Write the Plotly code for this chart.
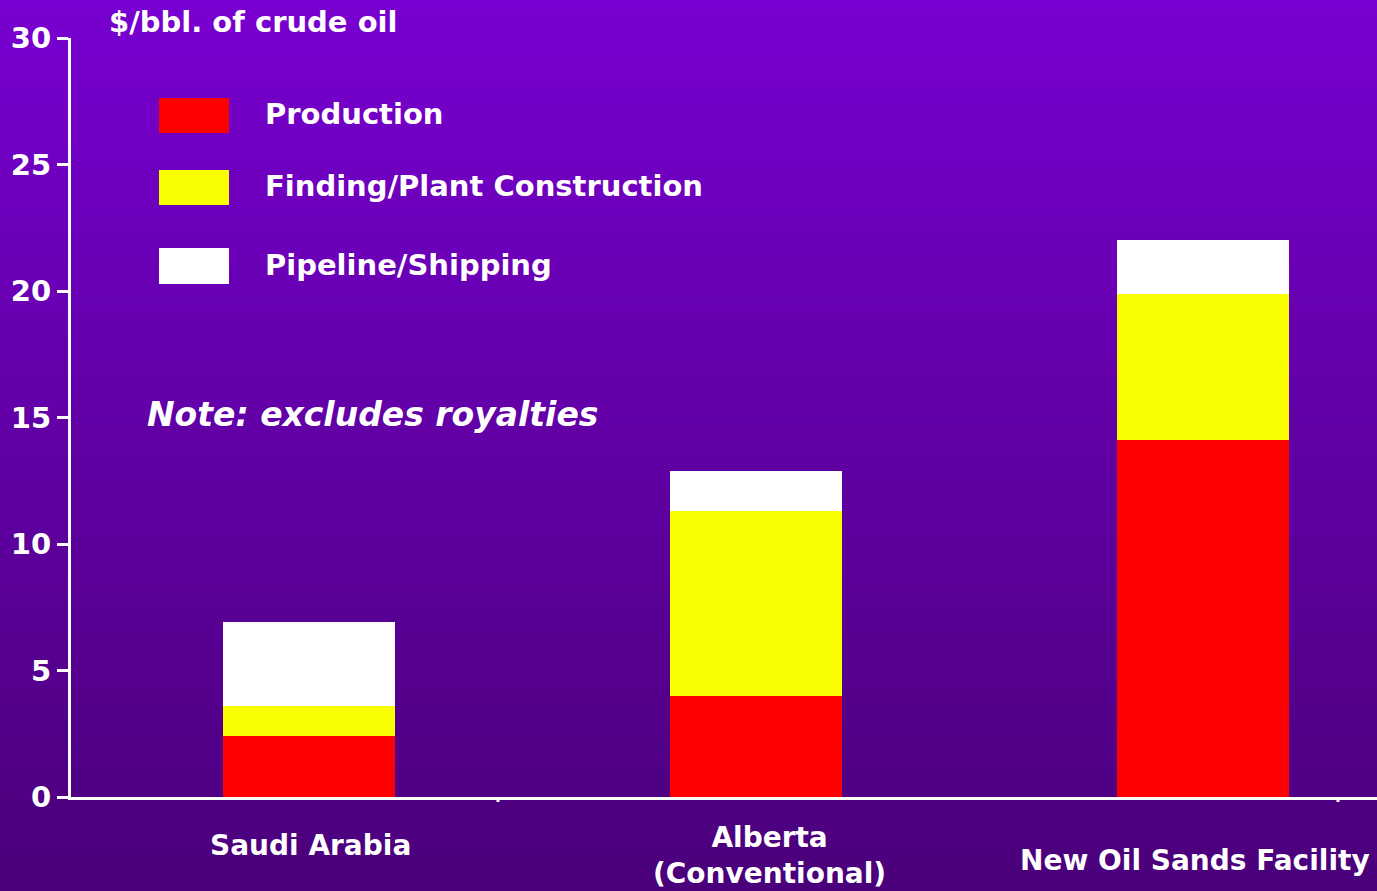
import plotly.graph_objects as go

# Cost components per barrel of crude oil ($/bbl)
categories = ["Saudi Arabia", "Alberta (Conventional)", "New Oil Sands Facility"]
category_labels = ["Saudi Arabia", "Alberta<br>(Conventional)", "New Oil Sands Facility"]
production = [2.4, 4.0, 14.1]
finding_construction = [1.2, 7.3, 5.8]
pipeline_shipping = [3.3, 1.6, 2.1]

series_names = ["Production", "Finding/Plant Construction", "Pipeline/Shipping"]
series_colors = ["#ff0000", "#f9ff00", "#ffffff"]
y_ticks = [0, 5, 10, 15, 20, 25, 30]

W, H = 1377, 891
M_L, M_R, M_T, M_B = 71, 0, 38, 94
PW, PH = W - M_L - M_R, H - M_T - M_B
FONT = "DejaVu Sans"


def px_x(p):
    """Pixel column -> paper x."""
    return (p - M_L) / PW


def px_y(p):
    """Pixel row -> paper y."""
    return (H - M_B - p) / PH


fig = go.Figure()
for name, vals, col in zip(series_names,
                           [production, finding_construction, pipeline_shipping],
                           series_colors):
    fig.add_trace(go.Bar(
        x=categories, y=vals, name=name,
        marker=dict(color=col, line=dict(width=0)),
        width=0.385, showlegend=False,
    ))

shapes = []
# vertical purple gradient background
top_rgb = (120, 0, 208)
bot_rgb = (74, 0, 122)
n_strips = 90
for i in range(n_strips):
    t = i / (n_strips - 1)
    c = tuple(round(a + (b - a) * t) for a, b in zip(top_rgb, bot_rgb))
    y0 = i * H / n_strips
    y1 = (i + 1) * H / n_strips + 1
    shapes.append(dict(
        type="rect", xref="paper", yref="paper", layer="below",
        x0=px_x(0), x1=px_x(W), y0=px_y(y1), y1=px_y(y0),
        fillcolor="rgb(%d,%d,%d)" % c, line=dict(width=0),
    ))

# legend swatches
legend_rows = [(98, 133), (170, 205), (248, 284)]
for (r0, r1), col in zip(legend_rows, series_colors):
    shapes.append(dict(
        type="rect", xref="paper", yref="paper",
        x0=px_x(159), x1=px_x(229), y0=px_y(r1), y1=px_y(r0),
        fillcolor=col, line=dict(width=0),
    ))

# small tick marks below the baseline
for tx in (498, 1338):
    shapes.append(dict(
        type="line", xref="paper", yref="paper",
        x0=px_x(tx), x1=px_x(tx), y0=px_y(797), y1=px_y(802),
        line=dict(color="white", width=3),
    ))

annotations = []
for name, (r0, r1) in zip(series_names, legend_rows):
    annotations.append(dict(
        text=name, xref="paper", yref="paper",
        x=px_x(263), y=px_y((r0 + r1) / 2 - 1),
        xanchor="left", yanchor="middle", showarrow=False,
        font=dict(family=FONT, size=29, color="white", weight="bold"),
    ))

annotations.append(dict(
    text="$/bbl. of crude oil", xref="paper", yref="paper",
    x=px_x(107), y=px_y(22), xanchor="left", yanchor="middle", showarrow=False,
    font=dict(family=FONT, size=29, color="white", weight="bold"),
))
annotations.append(dict(
    text="<i>Note: excludes royalties</i>", xref="paper", yref="paper",
    x=px_x(145), y=px_y(414), xanchor="left", yanchor="middle", showarrow=False,
    font=dict(family=FONT, size=33, color="white", weight="bold"),
))

# category labels under the bars
label_rows = [846, 855, 860]
label_centers = [310, 770, 1195]
for lab, row, cx in zip(category_labels, label_rows, label_centers):
    annotations.append(dict(
        text=lab, xref="paper", yref="paper",
        x=px_x(cx), y=px_y(row), xanchor="center", yanchor="middle",
        showarrow=False, align="center",
        font=dict(family=FONT, size=28, color="white", weight="bold"),
    ))

fig.update_layout(
    width=W, height=H,
    margin=dict(l=M_L, r=M_R, t=M_T, b=M_B),
    paper_bgcolor="#5e00a6",
    plot_bgcolor="rgba(0,0,0,0)",
    barmode="stack",
    bargap=0,
    shapes=shapes,
    annotations=annotations,
    xaxis=dict(
        type="category", range=[-0.532, 2.389],
        showticklabels=False, ticks="", showgrid=False, zeroline=False,
        showline=True, linecolor="white", linewidth=3,
    ),
    yaxis=dict(
        range=[0, 30], tickvals=y_ticks,
        ticks="outside", ticklen=11, tickwidth=3, tickcolor="white",
        showline=True, linecolor="white", linewidth=3,
        showgrid=False, zeroline=False,
        tickfont=dict(family=FONT, size=29, color="white", weight="bold"),
    ),
)

fig.write_html("out.html")
